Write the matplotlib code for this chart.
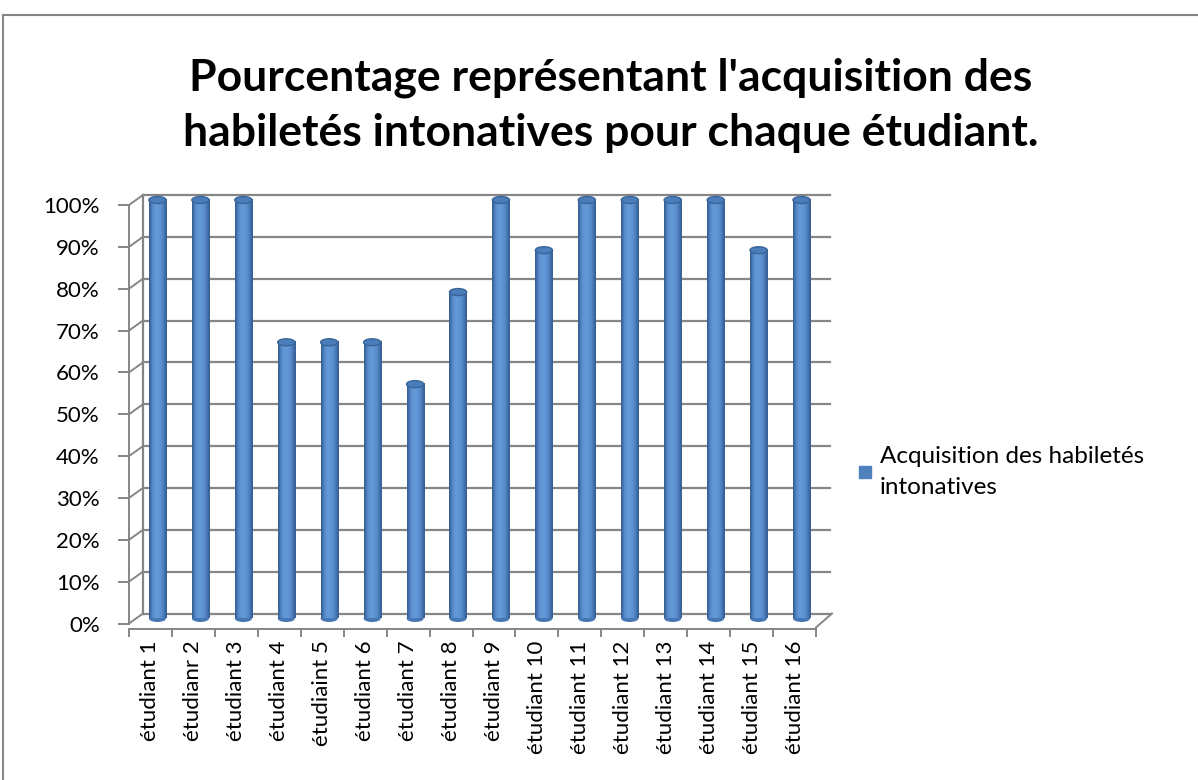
import numpy as np
import matplotlib
matplotlib.use("Agg")
import matplotlib.pyplot as plt
from matplotlib import transforms
from matplotlib.patches import Ellipse
from matplotlib.lines import Line2D

plt.rcParams['font.family'] = ['Lato', 'DejaVu Sans']

# data
students = ["étudiant 1", "étudianr 2", "étudiant 3", "étudiant 4", "étudiaint 5",
            "étudiant 6", "étudiant 7", "étudiant 8", "étudiant 9", "étudiant 10",
            "étudiant 11", "étudiant 12", "étudiant 13", "étudiant 14", "étudiant 15",
            "étudiant 16"]
scores = [100, 100, 100, 66, 66, 66, 56, 78, 100, 88, 100, 100, 100, 100, 88, 100]
yticks = [0, 10, 20, 30, 40, 50, 60, 70, 80, 90, 100]
title = "Pourcentage représentant l'acquisition des\nhabiletés intonatives pour chaque étudiant."
series_name = "Acquisition des habiletés\nintonatives"

W, H = 1198, 780
fig = plt.figure(figsize=(W / 100, H / 100), dpi=100)

# front plane of the 3d box, in pixels
left, right, y0, y100 = 129, 816, 623.5, 205
ax = fig.add_axes([left / W, (H - y0) / H, (right - left) / W, (y0 - y100) / H])
ax.patch.set_alpha(0)

grid_col = "#868686"
x = np.arange(len(students))

# offsets for back wall and middle depth (bars)
back = transforms.ScaledTranslation(14 / 100, 10 / 100, fig.dpi_scale_trans)
mid = transforms.ScaledTranslation(7 / 100, 5 / 100, fig.dpi_scale_trans)
tr_back = ax.transData + back
tr_mid = ax.transData + mid

ax.set_xlim(-0.5, len(students) - 0.5)
ax.set_ylim(0, 100)

# back wall gridlines
for t in yticks:
    ax.plot([-0.5, len(students) - 0.5], [t, t], color=grid_col, lw=1.6,
            transform=tr_back, clip_on=False, zorder=1)
ax.plot([-0.5, -0.5], [0, 100], color=grid_col, lw=1.6, transform=tr_back,
        clip_on=False, zorder=1)

# cylinders
w = 0.4
grad = np.array([[0.0, 0.3, 0.5, 0.6, 0.62, 0.58, 0.5, 0.38, 0.2, 0.0]])
cmap = matplotlib.colors.LinearSegmentedColormap.from_list(
    "cyl", ["#375f93", "#4f82c2", "#6499d8"])
ell_h = 7 / (y0 - y100) * 100
for xi, v in zip(x, scores):
    ax.add_patch(Ellipse((xi, 0), w, ell_h, facecolor="#4677b4", edgecolor="none",
                         transform=tr_mid, zorder=2, clip_on=False))
    ax.imshow(grad, cmap=cmap, vmin=0, vmax=0.62, aspect="auto", interpolation="bicubic",
              extent=[xi - w / 2, xi + w / 2, 0, v], transform=tr_mid, zorder=3,
              clip_on=False)
    ax.add_patch(Ellipse((xi, v), w, ell_h, facecolor="#4a7dbb", edgecolor="#3a6598",
                         lw=1, transform=tr_mid, zorder=4, clip_on=False))
ax.set_xlim(-0.5, len(students) - 0.5)
ax.set_ylim(0, 100)

# connectors from the front axis to the back wall
for t in yticks:
    px, py = ax.transData.transform((-0.5, t))
    ax.add_line(Line2D([px, px + 14], [py, py + 10], color=grid_col, lw=1.4,
                       transform=transforms.IdentityTransform(), clip_on=False))
# floor right edge
px, py = ax.transData.transform((len(students) - 0.5, 0))
ax.add_line(Line2D([px, px + 16], [py - 4, py + 10], color=grid_col, lw=1.4,
                   transform=transforms.IdentityTransform(), clip_on=False))

for s in ["top", "right"]:
    ax.spines[s].set_visible(False)
ax.spines["left"].set_color(grid_col)
ax.spines["left"].set_linewidth(1.4)
ax.spines["bottom"].set_color(grid_col)
ax.spines["bottom"].set_linewidth(1.4)
ax.spines["bottom"].set_position(("outward", 4))

ax.set_yticks(yticks)
ax.set_yticklabels([f"{t}%" for t in yticks], fontsize=16)
ax.tick_params(axis="y", length=8, width=1.4, color=grid_col, pad=13)
ax.set_xticks(np.arange(len(students) + 1) - 0.5, minor=True)
ax.set_xticks(x)
ax.set_xticklabels(students, rotation=90, fontsize=16)
ax.tick_params(axis="x", which="major", length=0, pad=8)
ax.tick_params(axis="x", which="minor", length=6, width=1.4, color=grid_col)

fig.text(0.51, (H - 105) / H, title, ha="center", va="center", fontsize=32,
         fontweight="bold", linespacing=1.45)

handle = Line2D([], [], marker="s", ls="", markersize=8.5, color="#4f81bd")
leg = fig.legend([handle], [series_name], loc="center left",
                 bbox_to_anchor=(836 / W, (H - 472) / H), frameon=False, fontsize=17.5,
                 handlelength=0.6, handletextpad=0.3, labelspacing=0)
leg.get_texts()[0].set_linespacing(1.55)

# outer chart frame
fig.add_artist(Line2D([3 / W, 3 / W], [0, (H - 15) / H], color=grid_col, lw=1.5,
                      transform=fig.transFigure))
fig.add_artist(Line2D([3 / W, 1], [(H - 15) / H, (H - 15) / H], color=grid_col, lw=1.5,
                      transform=fig.transFigure))

fig.savefig("out.png", dpi=100, facecolor="white")
